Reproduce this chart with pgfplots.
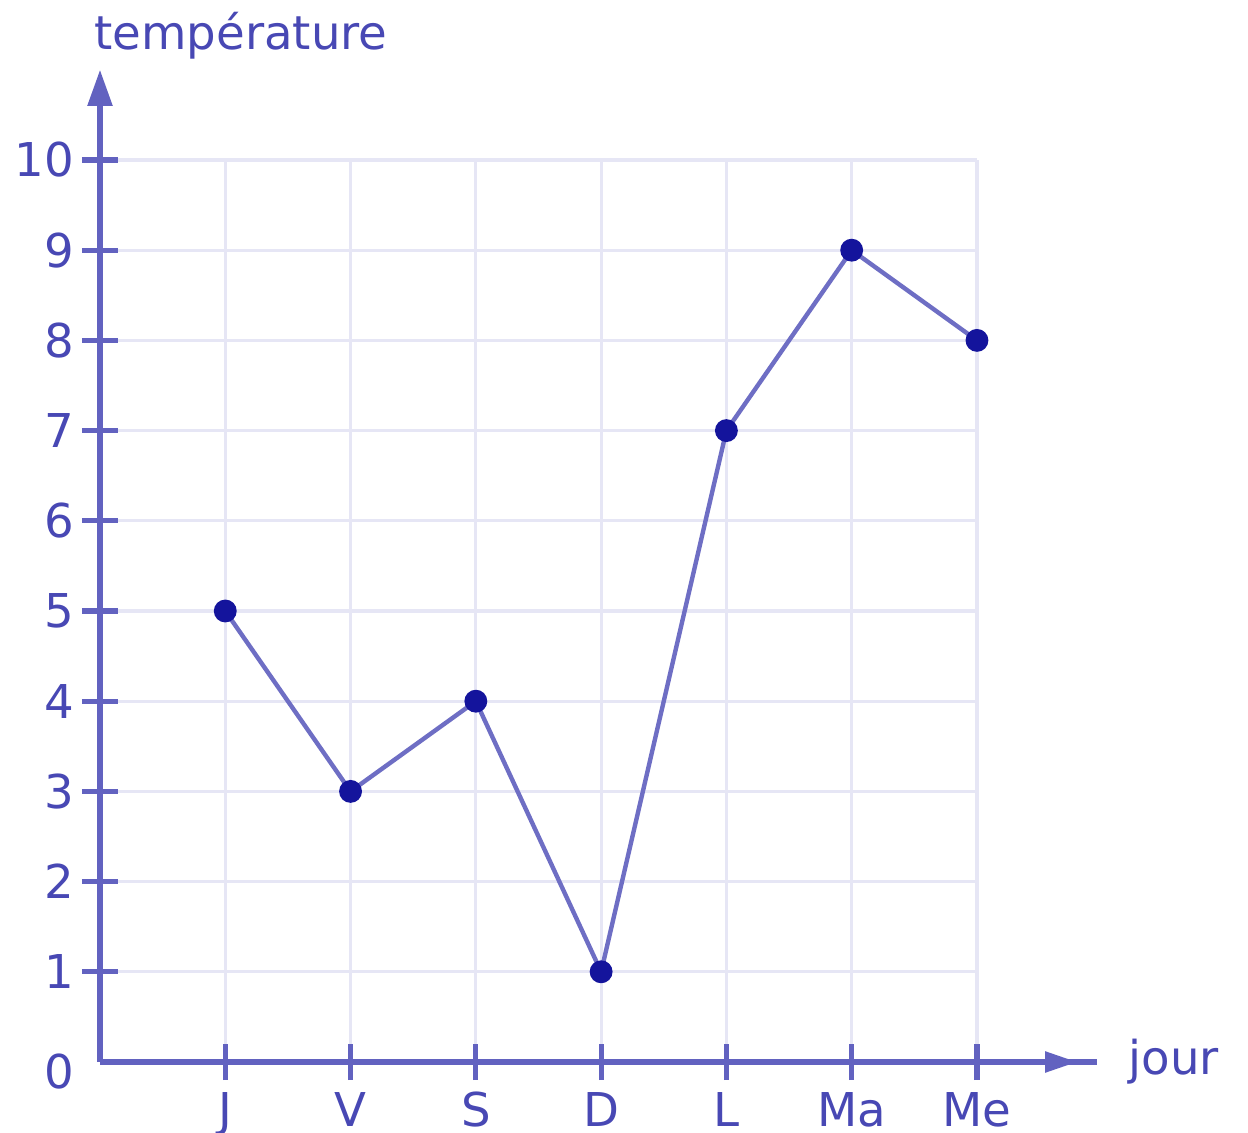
\documentclass[border=0pt]{standalone}
\usepackage{pgfplots}
\pgfplotsset{compat=1.18}
\usepackage{fontspec}
\setmainfont{DejaVu Sans}
\usetikzlibrary{arrows.meta}
\definecolor{txt}{HTML}{4848B4}
\definecolor{axc}{HTML}{6262C0}
\definecolor{gridc}{HTML}{E6E6F5}
\definecolor{linec}{HTML}{6E6EC4}
\definecolor{markc}{HTML}{14149C}
\begin{document}
\begin{tikzpicture}
\begin{axis}[
  x=31.32bp, y=22.55bp,
  xmin=0, xmax=7.96, ymin=0, ymax=11.0,
  enlargelimits=false,
  axis on top,
  axis lines=left,
  axis line style={axc, line width=1.3bp},
  x axis line style={-},
  y axis line style={-{Triangle[length=9bp,width=6bp]}},
  xtick={1,...,7}, xticklabels={J,V,S,D,L,Ma,Me},
  ytick={1,...,10},
  extra y ticks={0},
  extra y tick style={major tick length=0pt, yticklabel style={xshift=-4.5bp, yshift=-2.5bp}},
  tick align=center, major tick length=9bp,
  major tick style={draw=axc, line width=1.3bp},
  ticklabel style={font=\fontsize{11.7}{14}\selectfont, text=txt},
  xticklabel style={yshift=0.5bp},
  yticklabel style={xshift=1.5bp},
  /pgf/number format/assume math mode=true,
  clip=false,
]
\coordinate (O) at (axis cs:0,0);
\pgfplotsinvokeforeach{1,...,10}{\draw[gridc, line width=0.8bp] (axis cs:0,#1) -- (axis cs:7,#1);}
\pgfplotsinvokeforeach{1,...,7}{\draw[gridc, line width=0.8bp] (axis cs:#1,0) -- (axis cs:#1,10);}
\draw[axc, line width=1.3bp, -{Triangle[length=8bp,width=5bp]}] (axis cs:7.53,0) -- (axis cs:7.8,0);
\addplot[linec, line width=1.1bp, mark=*, mark size=2.3bp, mark options={fill=markc, draw=markc}]
  coordinates {(1,5)(2,3)(3,4)(4,1)(5,7)(6,9)(7,8)};
\node[anchor=base, text=txt, font=\fontsize{11.7}{14}\selectfont] at (axis cs:1.125,11.22) {température};
\node[anchor=base, text=txt, font=\fontsize{11.7}{14}\selectfont] at (axis cs:8.57,-0.144) {jour};
\end{axis}
\pgfresetboundingbox
\path[use as bounding box] (O) ++(-25bp,-17.75bp) rectangle ++(312bp,283.25bp);
\end{tikzpicture}
\end{document}
